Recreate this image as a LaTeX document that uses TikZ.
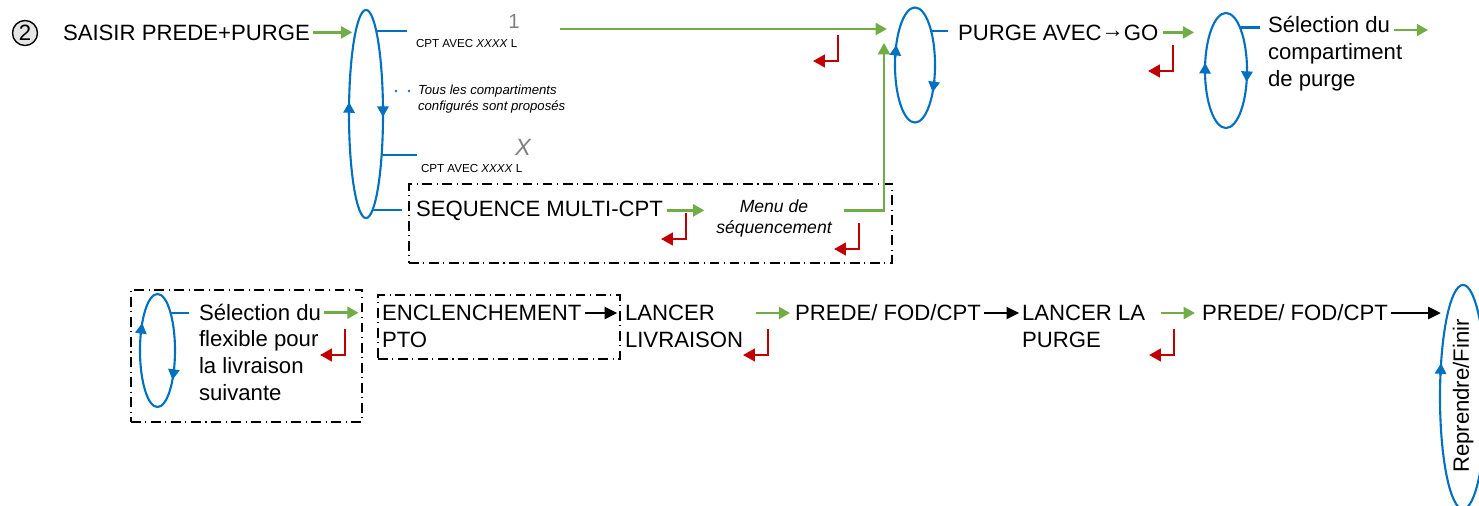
\documentclass[tikz,border=0pt]{standalone}
\usepackage{fontspec}
\setmainfont{Liberation Sans}
\usetikzlibrary{shapes.geometric,arrows.meta,calc}
\definecolor{loopblue}{RGB}{0,112,192}
\definecolor{okgreen}{RGB}{112,173,71}
\definecolor{backred}{RGB}{192,0,0}
\definecolor{optgray}{RGB}{128,128,128}

\begin{document}
\begin{tikzpicture}[x=0.01cm, y=-0.01cm,
		every node/.style={inner sep=0pt, outer sep=0pt},
		txt/.style={font=\fontsize{6.3}{7.55}\selectfont, anchor=base west, align=left},
		tiny/.style={font=\fontsize{3.3}{4}\selectfont, anchor=base west},
		note/.style={font=\fontsize{3.75}{4.55}\selectfont\itshape, anchor=base west, align=left},
		choice/.style={font=\fontsize{5.8}{7}\selectfont, text=optgray, anchor=base},
		loopell/.style={ellipse, draw=loopblue, line width=0.6pt},
		branch/.style={draw=loopblue, line width=0.6pt},
		turn/.style={draw=loopblue, line width=0.6pt, -{Triangle[length=3pt,width=3.2pt]}},
		garrow/.style={draw=okgreen, line width=0.7pt, -{Triangle[length=3.2pt,width=3.4pt]}, shorten <=1pt},
		karrow/.style={draw=black, line width=0.7pt, -{Triangle[length=3.6pt,width=3.4pt]}, shorten <=1pt},
		rarrow/.style={draw=backred, line width=0.7pt, -{Triangle[length=3.4pt,width=3.6pt]}},
		dashbox/.style={draw, line width=0.4pt, dash pattern=on 2.8pt off 1.3pt on 0.3pt off 1.3pt},
		retour/.pic={\draw[rarrow] (0,0) -- (0,26) -- (-25,26);}
	]
	\useasboundingbox (0,0) rectangle (1479,505);

	\node[circle, draw, fill=gray!20, line width=0.4pt, minimum size=0.25cm,
		font=\fontsize{6.3}{7.55}\selectfont] (num) at (25,33) {2};
	\node[txt] (saisir) at (63,40) {SAISIR PREDE+PURGE};
	\node[loopell, minimum width=0.34cm, minimum height=2.08cm] (ell1) at (366,114) {};
	\draw[garrow, shorten >=1pt] (saisir.east) -- (saisir.east -| ell1.97);
	\draw[turn] (ell1.180) -- (ell1.145);
	\draw[turn] (ell1.28) -- (ell1.-10);

	\draw[branch] (ell1.83) -- ++(31,0);
	\node[choice] (one) at (514,28) {1};
	\node[tiny] (cpt1) at (416,47) {CPT AVEC \textit{XXXX} L};
	\foreach \x in {396,409} \fill[loopblue] (\x,91) circle (0.4pt);
	\node[note] (tous) at (418,110) {Tous les compartiments\\configurés sont proposés};
	\draw[branch] (ell1.-69) -- ++(35,0);
	\node[choice, font=\fontsize{6.7}{8}\selectfont\itshape] (ix) at (523,155) {X};
	\node[tiny] (cpt2) at (421,172) {CPT AVEC \textit{XXXX} L};

	\node[dashbox, minimum width=4.83cm, minimum height=0.79cm] (seqbox) at (650.5,223.5) {};
	\node[txt] (seq) at (416,216) {SEQUENCE MULTI-CPT};
	\draw[branch, shorten >=2pt] (ell1.-86) -- (ell1.-86 -| seqbox.west);
	\node[note, font=\fontsize{5}{5.7}\selectfont\itshape, anchor=base, align=center] (menu) at (774,233) {Menu de\\séquencement};
	\draw[garrow, shorten >=3.4pt] (seq.east) -- (seq.east -| menu.west);
	\pic at (686,213) {retour};
	\pic at (859,223) {retour};

	\node[loopell, minimum width=0.4cm, minimum height=1.15cm] (ell2) at (915,65) {};
	\coordinate (g1) at (556,29);
	\coordinate (g3) at (884,43);
	\draw[garrow, shorten >=2.3pt] (g1) -- (g1 -| ell2.west);
	\draw[garrow, shorten <=3.4pt] (menu.east |- seq.east) -| (g3);
	\pic at (838,35) {retour};
	\draw[turn] (ell2.158) -- (ell2.133);
	\draw[turn] (ell2.-38) -- (ell2.-57);
	\node[txt] (purge) at (958,40) {PURGE AVEC\raisebox{0.13em}{→}GO};
	\draw[branch, shorten >=2.8pt] (ell2.65) -- (ell2.65 -| purge.west);

	\node[loopell, minimum width=0.42cm, minimum height=1.15cm] (ell3) at (1226,70.5) {};
	\draw[garrow, shorten <=1.4pt, shorten >=3.1pt] (purge.east) -- (purge.east -| ell3.west);
	\pic at (1173,45) {retour};
	\draw[turn] (ell3.187) -- (ell3.160);
	\draw[turn] (ell3.-4) -- (ell3.-29);
	\node[txt] (sel1) at (1268,86) {Sélection du\\compartiment\\de purge};
	\draw[branch, shorten >=2.3pt] (ell3.72) -- (ell3.72 -| sel1.west);
	\draw[garrow, shorten <=0pt] ($(sel1.base west)+(126,-56)$) -- ++(34,0);

	\node[dashbox, minimum width=2.31cm, minimum height=1.32cm] (flexbox) at (246.5,356) {};
	\node[loopell, minimum width=0.35cm, minimum height=1.13cm] (ell4) at (157.5,350.5) {};
	\draw[turn] (ell4.137) -- (ell4.119);
	\draw[turn] (ell4.-46) -- (ell4.-63);
	\node[txt] (sel2) at (199,400) {Sélection du\\flexible pour\\la livraison\\suivante};
	\draw[branch, shorten >=2.8pt] (ell4.71) -- (ell4.71 -| sel2.west);
	\draw[garrow, shorten >=1pt] (ell4.71 -| sel2.east) -- (ell4.71 -| flexbox.east);
	\pic at (345,329) {retour};

	\node[dashbox, minimum width=2.42cm, minimum height=0.64cm] (ptobox) at (499,327) {};
	\node[txt] (pto) at (382,347) {ENCLENCHEMENT\\PTO};
	\node[txt] (lancer) at (625,347) {LANCER\\LIVRAISON};
	\draw[karrow, shorten >=2.2pt] ($(pto.base east)+(0,-34)$) -- ($(lancer.base west)+(0,-34)$);
	\node[txt] (prede1) at (795,320) {PREDE/ FOD/CPT};
	\draw[garrow, shorten <=3.7pt, shorten >=1.4pt] ($(lancer.base east)+(0,-34)$) -- ($(prede1.base west)+(0,-7)$);
	\pic at (768,329) {retour};
	\node[txt] (purge2) at (1022,347) {LANCER LA\\PURGE};
	\draw[karrow, shorten >=0.8pt] ($(prede1.base east)+(0,-7)$) -- ($(purge2.base west)+(0,-34)$);
	\node[txt] (prede2) at (1202,320) {PREDE/ FOD/CPT};
	\draw[garrow, shorten <=4.5pt, shorten >=2pt] ($(purge2.base east)+(0,-34)$) -- ($(prede2.base west)+(0,-7)$);
	\pic at (1174,329) {retour};

	\node[loopell, minimum width=0.46cm, minimum height=2.24cm] (ell5) at (1463,397) {};
	\node[txt, anchor=center, rotate=90] (reprise) at (1463,396) {Reprendre/Finir};
	\draw[karrow] ($(prede2.base east)+(0,-7)$) -- ++(53,0);
	\draw[turn] (ell5.136) -- (ell5.123);
\end{tikzpicture}
\end{document}
